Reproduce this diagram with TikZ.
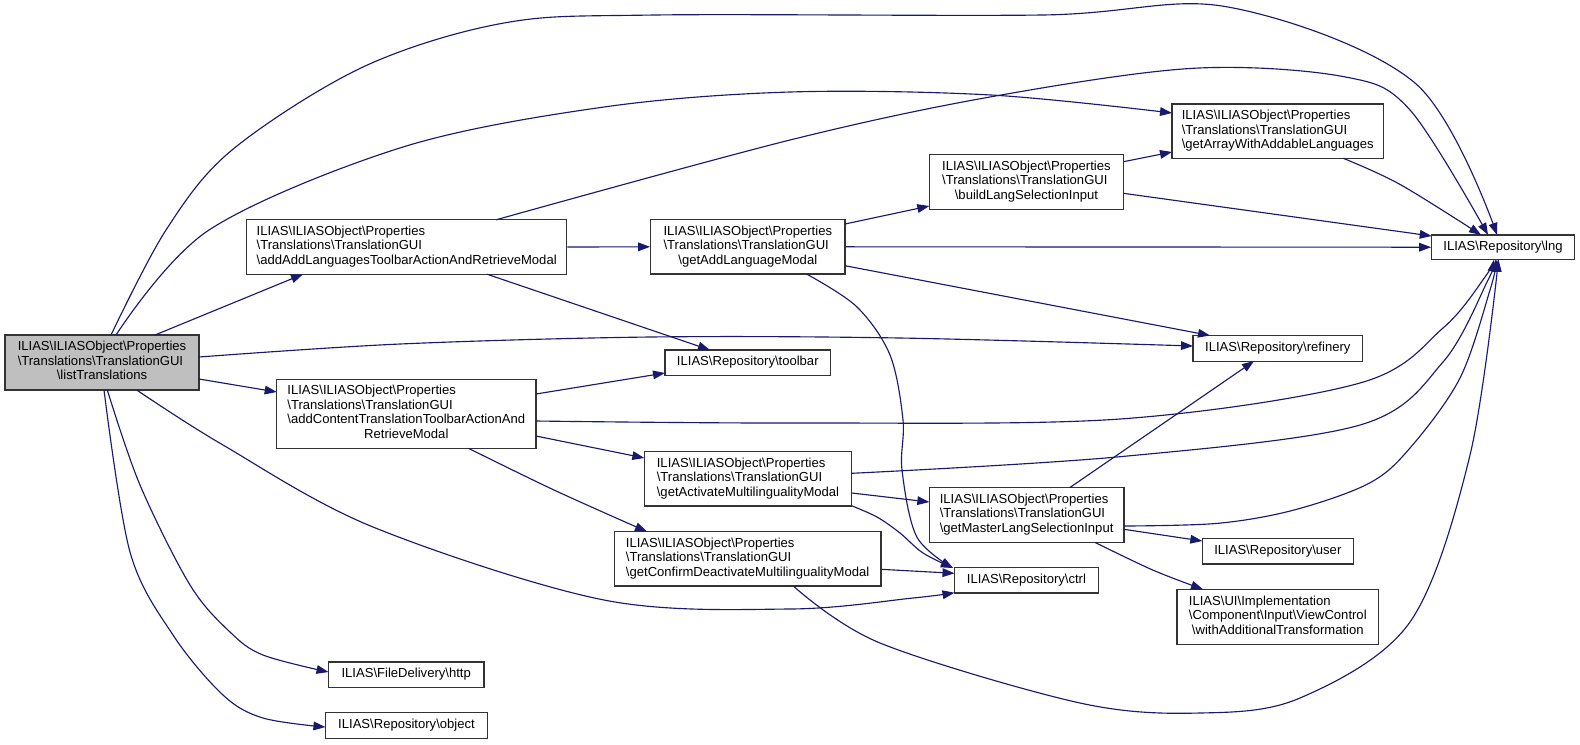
\documentclass[tikz,border=0pt]{standalone}
\usepackage{fontspec}
\setmainfont{Liberation Sans}
\usetikzlibrary{arrows.meta,calc}
\definecolor{edgec}{HTML}{191970}
\definecolor{rootfill}{HTML}{BFBFBF}
\definecolor{boxline}{HTML}{333333}
\newcommand\bs{\textbackslash}
\newcommand\lab[2]{\begin{tabular}{@{}l@{}}#1\\\multicolumn{1}{@{}c@{}}{#2}\end{tabular}}
\newcommand\labone[1]{\begin{tabular}{@{}c@{}}#1\end{tabular}}
\begin{document}
\begin{tikzpicture}[x=0.75pt,y=-0.75pt,
  box/.style 2 args={draw=boxline, line width=0.9pt, fill=white, inner sep=0pt,
    minimum width=#1*0.75pt, minimum height=#2*0.75pt,
    font=\fontsize{9.8}{10.9}\selectfont},
  rootbox/.style={fill=rootfill},
  edge/.style={draw=edgec, line width=0.85pt, -{Triangle[length=9pt,width=6.5pt]}},
  curv/.style={smooth, tension=0.55}]
\fill[white] (0,0) rectangle (1580,744);
\useasboundingbox (0,0) rectangle (1580,744);

% nodes
\node[box={194}{55}, rootbox] (list) at (102,362.5) {\lab{ILIAS\bs ILIASObject\bs Properties\\\bs Translations\bs TranslationGUI}{\bs listTranslations}};
\node[box={320}{54.5}] (addAdd) at (406.7,247) {\lab{ILIAS\bs ILIASObject\bs Properties\\\bs Translations\bs TranslationGUI}{\bs addAddLanguagesToolbarActionAndRetrieveModal}};
\node[box={259.3}{69}] (addContent) at (406.3,413.8) {\lab{ILIAS\bs ILIASObject\bs Properties\\\bs Translations\bs TranslationGUI\\\bs addContentTranslationToolbarActionAnd}{RetrieveModal}};
\node[box={194.3}{54.5}] (getAddLang) at (747.8,246.8) {\lab{ILIAS\bs ILIASObject\bs Properties\\\bs Translations\bs TranslationGUI}{\bs getAddLanguageModal}};
\node[box={165.7}{25.6}] (toolbar) at (747.8,362.8) {\labone{ILIAS\bs Repository\bs toolbar}};
\node[box={207.4}{54.5}] (getActivate) at (748,478.8) {\lab{ILIAS\bs ILIASObject\bs Properties\\\bs Translations\bs TranslationGUI}{\bs getActivateMultilingualityModal}};
\node[box={266.7}{54.5}] (getConfirm) at (747.6,558.8) {\lab{ILIAS\bs ILIASObject\bs Properties\\\bs Translations\bs TranslationGUI}{\bs getConfirmDeactivateMultilingualityModal}};
\node[box={194.2}{55}] (buildLang) at (1026.4,181.7) {\lab{ILIAS\bs ILIASObject\bs Properties\\\bs Translations\bs TranslationGUI}{\bs buildLangSelectionInput}};
\node[box={194.7}{54.6}] (getMaster) at (1026.6,515) {\lab{ILIAS\bs ILIASObject\bs Properties\\\bs Translations\bs TranslationGUI}{\bs getMasterLangSelectionInput}};
\node[box={143.8}{25.4}] (ctrl) at (1026.4,580.3) {\labone{ILIAS\bs Repository\bs ctrl}};
\node[box={211.4}{54.3}] (getArray) at (1277.7,131.2) {\lab{ILIAS\bs ILIASObject\bs Properties\\\bs Translations\bs TranslationGUI}{\bs getArrayWithAddableLanguages}};
\node[box={169.7}{25.6}] (refinery) at (1277.8,348.3) {\labone{ILIAS\bs Repository\bs refinery}};
\node[box={151}{25.6}] (user) at (1277.8,551.2) {\labone{ILIAS\bs Repository\bs user}};
\node[box={201.7}{55}] (withAdd) at (1277.8,616.8) {\lab{ILIAS\bs UI\bs Implementation\\\bs Component\bs Input\bs ViewControl}{\bs withAdditionalTransformation}};
\node[box={142.6}{24.6}] (lng) at (1503,247.2) {\labone{ILIAS\bs Repository\bs lng}};
\node[box={155.5}{25.6}] (http) at (406.2,674.8) {\labone{ILIAS\bs FileDelivery\bs http}};
\node[box={162.3}{25.6}] (object) at (406.5,725.5) {\labone{ILIAS\bs Repository\bs object}};

% edges from listTranslations
\draw[edge] plot[curv] coordinates {($(list)+(9,-27.5)$) (166,230) (232,150) (363,67) (504,23) (655,15) (1042,15) (1228,7) (1415,83) ($(lng)+(-6,-12.3)$)};
\draw[edge] plot[curv] coordinates {($(list)+(14,-27.5)$) (209,230) (403,147) (604,107) (790,92) (991,95) ($(getArray)+(-105.7,-18.2)$)};
\draw[edge] ($(list)+(53,-27.5)$) -- ($(addAdd)+(-103.7,27.2)$);
\draw[edge] plot[curv] coordinates {($(list)+(97,-5.5)$) (400,344) (650,337) (900,338) ($(refinery)+(-84.8,-2.3)$)};
\draw[edge] ($(list)+(97,16.5)$) -- ($(addContent)+(-129.6,-21.8)$);
\draw[edge] plot[curv] coordinates {($(list)+(34.7,27.5)$) (223,445) (373,527) (604,600) (790,609) (913,598) ($(ctrl)+(-71.9,12.4)$)};
\draw[edge] plot[curv] coordinates {($(list)+(5.3,27.5)$) (140,485) (190,585) (230,632) (263,655) ($(http)+(-77.7,-2.8)$)};
\draw[edge] plot[curv] coordinates {($(list)+(2,27.5)$) (130,552) (173,635) (223,695) (263,718) ($(object)+(-81.1,1.5)$)};

% edges from addAddLanguages...
\draw[edge] (addAdd.east) -- (getAddLang.west);
\draw[edge] ($(addAdd)+(80.3,27.2)$) -- ($(toolbar)+(-37.8,-12.8)$);
\draw[edge] plot[curv] coordinates {($(addAdd)+(89.3,-27.2)$) (790,140) (991.5,96.7) (1193,68.3) (1344,76.7) (1410,110) ($(lng)+(-15,-12.3)$)};

% edges from getAddLanguageModal
\draw[edge] ($(getAddLang)+(97.2,-22.8)$) -- ($(buildLang)+(-97.1,24.3)$);
\draw[edge] (getAddLang.east) -- (lng.west);
\draw[edge] ($(getAddLang)+(97.2,18.9)$) -- ($(refinery)+(-67.8,-12.8)$);
\draw[edge] plot[curv] coordinates {($(getAddLang)+(58.9,27.3)$) (856.7,306.7) (890,355) (903,420) (902,470) (916.7,536.7) ($(ctrl)+(-73.4,-12.3)$)};

% edges from addContentTranslation...
\draw[edge] ($(addContent)+(129.7,-19.8)$) -- ($(toolbar)+(-82.8,10.2)$);
\draw[edge] plot[curv] coordinates {($(addContent)+(129.7,7.2)$) (800,423) (1120,419) (1360,383) (1443,328) (1485,277) ($(lng)+(-9,12.3)$)};
\draw[edge] ($(addContent)+(129.7,22.2)$) -- ($(getActivate)+(-103.7,-20.8)$);
\draw[edge] plot[curv] coordinates {($(addContent)+(62.2,34.5)$) (554,490) ($(getConfirm)+(-100.6,-27.2)$)};

% edges from getActivateMultilingualityModal
\draw[edge] plot[curv] coordinates {($(getActivate)+(103.7,-5.5)$) (1120,456.7) (1360,425) (1443,362) (1488,280) ($(lng)+(-7.5,12.3)$)};
\draw[edge] ($(getActivate)+(103.7,14.2)$) -- ($(getMaster)+(-97.3,-13)$);
\draw[edge] plot[curv] coordinates {($(getActivate)+(103.7,27)$) (877,517) (900,533) (923,553) ($(ctrl)+(-73.4,-12.3)$)};

% edges from getConfirmDeactivate...
\draw[edge] ($(getConfirm)+(133.4,10.5)$) -- ($(ctrl)+(-71.9,-7)$);
\draw[edge] plot[curv] coordinates {($(getConfirm)+(45.7,27.2)$) (880,643) (1080,703) (1200,713) (1300,698) (1410,622) (1470,455) ($(lng)+(-4.5,12.3)$)};

% edges from getMasterLangSelectionInput
\draw[edge] ($(getMaster)+(43,-27.3)$) -- ($(refinery)+(-23.8,12.8)$);
\draw[edge] plot[curv] coordinates {($(getMaster)+(97.4,11)$) (1218,523.3) (1294,510) (1369,483.3) (1410,448) (1460,378) (1490,290) ($(lng)+(-6,12.3)$)};
\draw[edge] ($(getMaster)+(97.4,14.3)$) -- ($(user)+(-75.5,-10.2)$);
\draw[edge] plot[curv] coordinates {($(getMaster)+(68.2,27.3)$) (1152.7,570) ($(withAdd)+(-74.8,-27.5)$)};

% edges from buildLangSelectionInput
\draw[edge] ($(buildLang)+(97.1,-20)$) -- ($(getArray)+(-105.7,20.8)$);
\draw[edge] ($(buildLang)+(97.1,11.6)$) -- ($(lng)+(-71.3,-11.2)$);

% edge from getArrayWithAddableLanguages
\draw[edge] plot[curv] coordinates {($(getArray)+(65.6,27.1)$) (1400,184.4) ($(lng)+(-22,-12.3)$)};
\end{tikzpicture}
\end{document}
